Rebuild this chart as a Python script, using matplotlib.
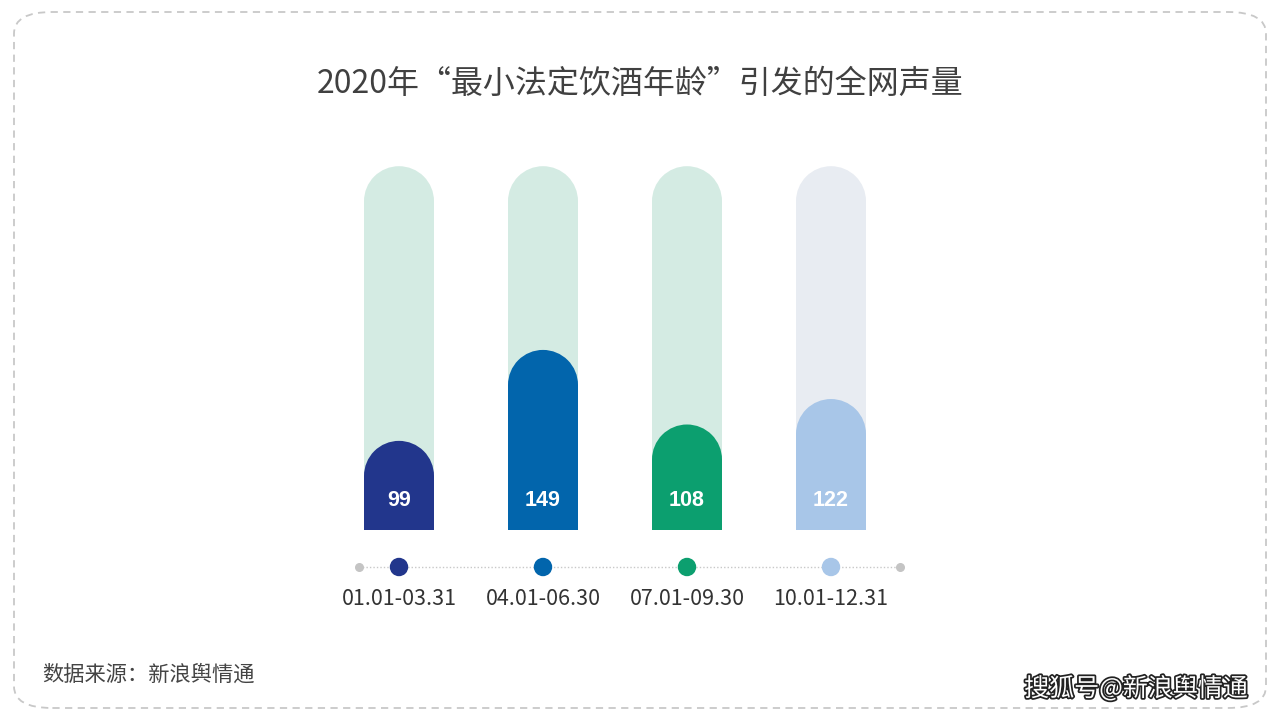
import matplotlib
matplotlib.use("Agg")
import matplotlib.pyplot as plt
from matplotlib.patches import Ellipse, FancyBboxPatch
import matplotlib.patheffects as pe

plt.rcParams['font.family'] = ['Noto Sans CJK SC', 'DejaVu Sans']

# data
periods = ["01.01-03.31", "04.01-06.30", "07.01-09.30", "10.01-12.31"]
volumes = [99, 149, 108, 122]
bar_colors = ["#22368c", "#0265ac", "#0c9f6f", "#a8c6e8"]
track_colors = ["#d4ebe3", "#d4ebe3", "#d4ebe3", "#e8ecf2"]
track_max = 250
axis_min = 50

title = "2020年“最小法定饮酒年龄”引发的全网声量"
source = "数据来源：新浪舆情通"

W, H = 1280, 720
fig = plt.figure(figsize=(12.8, 7.2), dpi=100)
fig.patch.set_facecolor("white")

# dashed rounded frame
frame = FancyBboxPatch((14 / W, 12 / H), 1252 / W, 696 / H,
                       boxstyle="round,pad=0,rounding_size=0.03",
                       transform=fig.transFigure, fill=False,
                       edgecolor="#c8c8c8", linestyle=(0, (4, 3)), linewidth=1.3)
fig.patches.append(frame)

# main bars axis: y=50 at px 530, y=260 at px ~148
ax = fig.add_axes([327 / W, (720 - 530) / H, 576 / W, 382 / H])
ax.set_xlim(-0.5, 3.5)
ax.set_ylim(axis_min, 260)
ax.axis("off")

xs = list(range(len(volumes)))
bw = 70 / 144  # bar width in data units

# radius of cap in data units (35 px)
px_per_y = ax.get_position().height * H / (260 - axis_min)
r = 35 / px_per_y


def rounded_bar(x, top, color, z):
    ax.bar(x, top - r - axis_min, bottom=axis_min, width=bw, color=color,
           linewidth=0, zorder=z)
    ax.add_patch(Ellipse((x, top - r), bw, 2 * r, facecolor=color,
                         edgecolor="none", zorder=z))


for x, v, c, tc in zip(xs, volumes, bar_colors, track_colors):
    rounded_bar(x, track_max, tc, 1)
    rounded_bar(x, v, c, 2)
    ax.text(x, axis_min + 29 / px_per_y, str(v), ha="center", va="center",
            color="white", fontsize=15.5, fontweight="bold",
            family="Liberation Sans", zorder=3)

# timeline below the bars
tl_y = axis_min - 37 / px_per_y
ax.plot([-0.28, 3.48], [tl_y, tl_y], color="#c8c8c8", linestyle=(0, (1, 1.5)),
        linewidth=1, clip_on=False, zorder=1)
ax.scatter([-0.28, 3.48], [tl_y, tl_y], s=30, color="#c4c4c4", clip_on=False, zorder=2)
ax.scatter(xs, [tl_y] * len(xs), s=150, color=bar_colors, clip_on=False, zorder=3)
for x, p in zip(xs, periods):
    ax.text(x, axis_min - 69 / px_per_y, p, ha="center", va="center",
            fontsize=15.5, color="#333333", clip_on=False)

fig.text(640 / W, 1 - 84 / H, title, ha="center", va="center",
         fontsize=23, color="#404040")
fig.text(42 / W, 1 - 675 / H, source, ha="left", va="center",
         fontsize=15.3, color="#444444")

# watermark
fig.text(1136 / W, 1 - 689 / H, "搜狐号@新浪舆情通", ha="center", va="center",
         fontsize=18, color="white",
         path_effects=[pe.withStroke(linewidth=2.5, foreground="#222222")])

fig.savefig("out.png", dpi=100)
